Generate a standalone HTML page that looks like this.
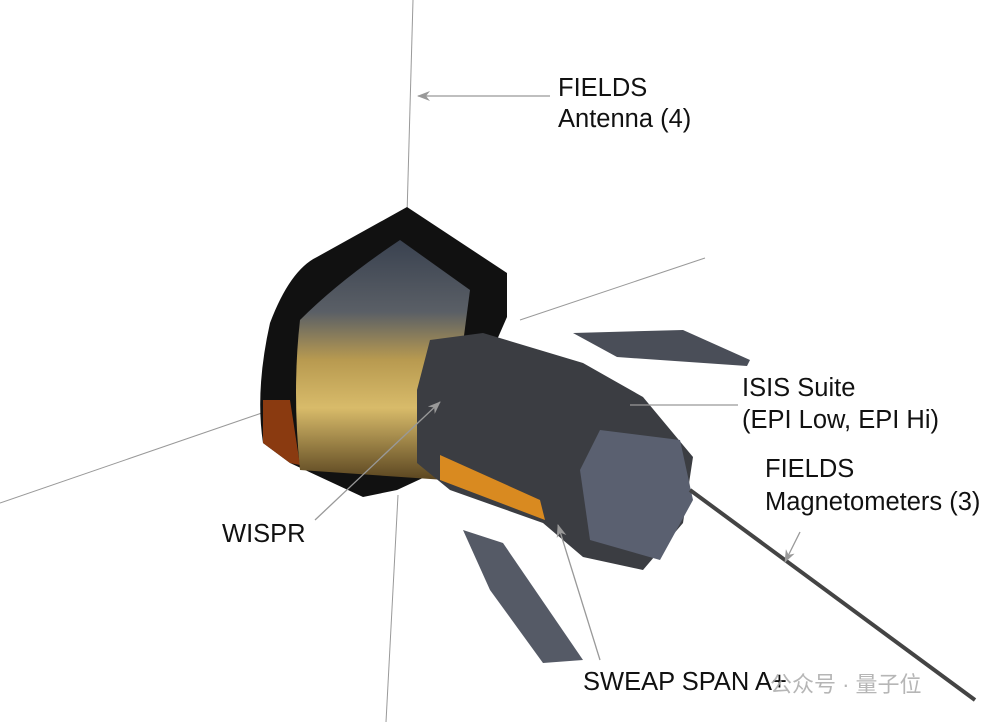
<!DOCTYPE html>
<html><head><meta charset="utf-8"><style>
body{margin:0;background:#fff;width:992px;height:722px;overflow:hidden;font-family:"Liberation Sans","Noto Sans CJK SC",sans-serif;}
svg{position:absolute;left:0;top:0}
.t{font-size:25.5px;fill:#111}
</style></head><body>
<svg width="992" height="722" viewBox="0 0 992 722">
<defs>
<linearGradient id="g" x1="0" y1="0" x2="0" y2="1">
<stop offset="0" stop-color="#3a4250"/><stop offset="0.3" stop-color="#5a5f66"/>
<stop offset="0.5" stop-color="#b89a50"/><stop offset="0.7" stop-color="#d8bb6a"/>
<stop offset="1" stop-color="#5a4520"/></linearGradient>
<marker id="a" markerWidth="14" markerHeight="10" refX="12" refY="5" orient="auto" markerUnits="userSpaceOnUse"><path d="M0,0 L13,5 L0,10 L4,5 Z" fill="#999"/></marker>
</defs>
<g stroke="#999" stroke-width="1" fill="none">
<line x1="413" y1="0" x2="407" y2="215"/>
<line x1="398" y1="495" x2="386" y2="722"/>
<line x1="0" y1="503" x2="285" y2="405"/>
<line x1="520" y1="320" x2="705" y2="258"/>
</g>
<path d="M407,207 L507,273 L507,317 L440,470 L397,490 L363,497 L290,463 L263,443 Q255,390 270,323 Q290,270 317,257 Z" fill="#111"/>
<path d="M263,400 L263,443 L290,463 L300,465 L290,400 Z" fill="#8a3a10"/>
<path d="M300,320 Q340,280 400,240 L470,290 L445,480 L300,470 Q292,390 300,320 Z" fill="url(#g)"/>
<path d="M430,340 L483,333 L583,363 L643,397 L693,457 L683,523 L643,570 L583,557 L543,523 L450,490 L417,463 L417,390 Z" fill="#3b3d42"/>
<path d="M600,430 L680,440 L693,500 L660,560 L590,540 L580,470 Z" fill="#5a6070"/>
<path d="M440,455 L540,500 L545,520 L440,480 Z" fill="#d98a20"/>
<path d="M573,333 L683,330 L750,360 L747,366 L617,357 Z" fill="#4a4e58"/>
<path d="M463,530 L503,543 L583,660 L543,663 L490,590 Z" fill="#555a66"/>
<line x1="690" y1="490" x2="975" y2="700" stroke="#444" stroke-width="4"/>
<g stroke="#999" stroke-width="1.3" fill="none">
<line x1="550" y1="96" x2="418" y2="96" marker-end="url(#a)"/>
<line x1="738" y1="405" x2="630" y2="405"/>
<line x1="800" y1="532" x2="785" y2="562" marker-end="url(#a)"/>
<line x1="315" y1="520" x2="440" y2="402" marker-end="url(#a)"/>
<line x1="600" y1="660" x2="558" y2="525" marker-end="url(#a)"/>
</g>
<text class="t" x="558" y="96">FIELDS</text>
<text class="t" x="558" y="127">Antenna (4)</text>
<text class="t" x="742" y="396">ISIS Suite</text>
<text class="t" x="742" y="428">(EPI Low, EPI Hi)</text>
<text class="t" x="765" y="477">FIELDS</text>
<text class="t" x="765" y="510">Magnetometers (3)</text>
<text class="t" x="222" y="542">WISPR</text>
<text class="t" x="583" y="690">SWEAP SPAN A+</text>
<text x="770" y="692" font-size="22" fill="#aaa" opacity="0.85">公众号 · 量子位</text>
</svg>
</body></html>
